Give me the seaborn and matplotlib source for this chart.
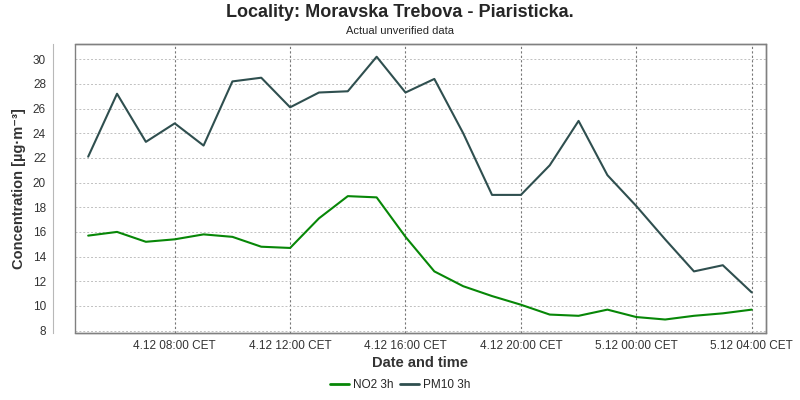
import pandas as pd
import matplotlib
matplotlib.use('Agg')
import matplotlib.pyplot as plt
import matplotlib.dates as mdates
from matplotlib.patches import Rectangle
import seaborn as sns

# hourly measurements, 4.12 05:00 -> 5.12 04:00
start_time = '2023-12-04 05:00'
n_hours = 24

no2 = [15.7, 16.0, 15.2, 15.4, 15.8, 15.6, 14.8, 14.7, 17.1, 18.9, 18.8, 15.6,
       12.8, 11.6, 10.8, 10.1, 9.3, 9.2, 9.7, 9.1, 8.9, 9.2, 9.4, 9.7]
pm10 = [22.1, 27.2, 23.3, 24.8, 23.0, 28.2, 28.5, 26.1, 27.3, 27.4, 30.2, 27.3,
        28.4, 24.0, 19.0, 19.0, 21.4, 25.0, 20.6, 18.1, 15.4, 12.8, 13.3, 11.1]

series_names = ['NO2 3h', 'PM10 3h']
series_colors = ['#078707', '#2f4f4f']
y_ticks = list(range(8, 31, 2))

times = pd.date_range(start_time, periods=n_hours, freq='h')
df = pd.DataFrame({
    'time': list(times) * 2,
    'value': no2 + pm10,
    'series': [series_names[0]] * n_hours + [series_names[1]] * n_hours,
})

sns.set_style('white')
plt.rcParams['font.family'] = ['Liberation Sans', 'DejaVu Sans']

fig = plt.figure(figsize=(8, 4), dpi=100)
ax = fig.add_axes([0.094, 0.167, 0.863, 0.722])

sns.lineplot(data=df, x='time', y='value', hue='series',
             palette=dict(zip(series_names, series_colors)),
             linewidth=1.5, ax=ax, legend=False)

ax.set_xlim(pd.Timestamp('2023-12-04 04:33'), pd.Timestamp('2023-12-05 04:29'))
ax.set_ylim(7.79, 31.2)
ax.set_yticks(y_ticks)
ax.tick_params(axis='both', labelsize=8.5, color='#999999', labelcolor='#333333',
               length=3, direction='out', width=0.6, pad=2)

ax.xaxis.set_major_locator(mdates.HourLocator(byhour=[0, 4, 8, 12, 16, 20]))
ax.xaxis.set_major_formatter(
    matplotlib.ticker.FuncFormatter(
        lambda v, p: f"{mdates.num2date(v).day}.12 {mdates.num2date(v):%H:%M} CET"))

ax.grid(axis='y', color='#c0c0c0', linestyle=(0, (2, 2)), linewidth=0.7)
ax.grid(axis='x', color='#777777', linestyle=(0, (2, 2)), linewidth=0.8)
ax.set_axisbelow(True)

# y axis drawn apart from the plot frame (~22 px)
ax.spines['left'].set_position(('outward', 16))
ax.spines['left'].set_color('#b8b8b8')
ax.spines['left'].set_linewidth(0.8)
for side in ['top', 'right', 'bottom']:
    ax.spines[side].set_color('#808080')
    ax.spines[side].set_linewidth(1.0)
ax.add_patch(Rectangle((0, 0), 1, 1, transform=ax.transAxes, fill=False,
                       edgecolor='#808080', linewidth=1.0, clip_on=False, zorder=5))

ax.set_xlabel('Date and time', fontsize=10.5, fontweight='bold', color='#333333', labelpad=3)
ax.set_ylabel('Concentration [µg·m⁻³]', fontsize=10.5, fontweight='bold', color='#333333', labelpad=5)

fig.text(0.5, 0.968, 'Locality: Moravska Trebova - Piaristicka.', ha='center', va='center',
         fontsize=13, fontweight='bold')
fig.text(0.5, 0.922, 'Actual unverified data', ha='center', va='center', fontsize=8)

handles = [plt.Line2D([], [], color=c, linewidth=2) for c in series_colors]
fig.legend(handles, series_names, loc='center', bbox_to_anchor=(0.5, 0.037), ncol=2,
           frameon=False, fontsize=8.5, handlelength=1.6, handletextpad=0.3,
           columnspacing=0.6)

plt.savefig('out.png', dpi=100)
plt.close()
